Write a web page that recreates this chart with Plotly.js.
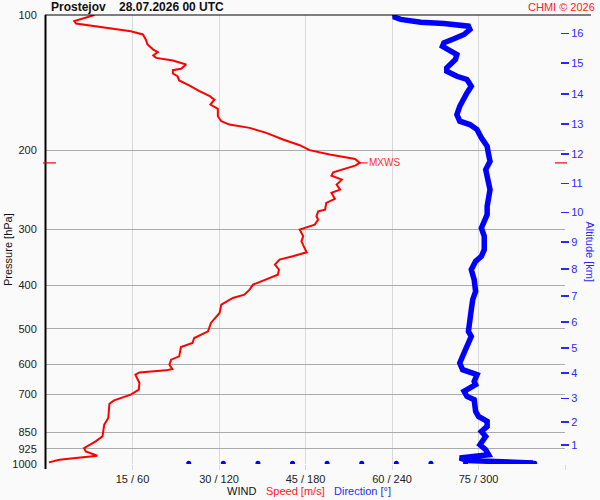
<!DOCTYPE html>
<html>
<head>
<meta charset="utf-8">
<script src="https://cdn.plot.ly/plotly-3.0.1.min.js"></script>
<style>html,body{margin:0;padding:0;background:#fafafa;}#chart{width:600px;height:500px;}</style>
</head>
<body>
<div id="chart"></div>
<script>
// Wind speed profile [m/s] vs pressure [hPa]
var speedP = [100,103.2,104.5,106.2,107.3,108.7,110.5,113.4,116.3,119.4,
  121.0,123.1,124.6,126.3,128.9,131.8,132.7,135.0,136.9,139.9,
  143.6,147.8,151.6,154.3,158.3,161.8,168.1,172.4,175.4,178.4,
  183.0,189.4,195.0,200.0,204.6,209.2,213.5,216.5,224.0,227.9,
  232.6,238.6,244.8,249.0,256.8,262.1,271.3,273.7,280.8,285.6,
  293.0,298.1,300.6,311.1,319.2,327.5,337.7,344.7,350.6,359.7,
  369.1,378.7,398.6,409.0,419.6,426.7,441.7,460.8,485.1,506.4,
  524.0,537.6,548.7,575.9,585.7,600.9,614.3,618.7,625.1,632.5,
  660.0,683.0,700.9,721.7,734.0,789.8,817.4,868.0,890.7,921.4,
  937.7,958.4,969.6,978.1,991.8];
var speed = [8.4,4.9,5.2,9.2,11.5,14.7,16.8,17.3,17.6,18.6,
  19.4,18.6,19.1,22.0,24.3,23.4,22.0,22.0,22.8,23.1,
  24.9,26.6,28.4,29.2,28.5,29.8,29.8,30.4,31.8,35.3,
  38.2,41.1,44.0,45.7,49.2,53.6,54.4,53.6,49.8,49.5,
  51.3,50.4,51.0,49.5,50.1,48.6,48.4,47.2,46.9,47.2,
  46.6,44.6,44.0,44.6,44.3,44.7,45.2,42.8,40.5,39.7,
  40.4,40.2,35.9,35.3,34.4,32.4,30.4,30.1,28.6,28.1,
  25.7,25.4,23.4,23.1,21.7,21.4,21.9,20.8,16.2,15.5,
  16.2,16.1,14.7,11.8,11.0,10.8,10.1,9.8,8.6,6.6,
  6.9,8.9,5.7,2.3,0.5];

// Wind direction profile [deg] vs pressure [hPa]
var dirP = [100,100.9,102.3,103.8,104.5,105.9,107.7,110.5,113.0,115.3,
  117.4,119.4,122.5,125.6,131.1,133.4,136.9,139.2,144.1,149.1,
  152.9,159.7,166.6,172.4,175.4,180.0,187.7,196.0,204.6,211.7,
  220.9,228.7,244.8,255.5,266.7,278.3,288.1,298.1,311.1,333.1,
  344.7,353.7,369.1,388.5,412.5,430.4,453.1,481.2,506.4,519.7,
  542.3,565.8,595.7,616.6,632.5,654.6,665.8,689.0,707.0,719.0,
  763.5,783.4,803.8,824.7,846.2,868.0,905.8,929.3,953.4,961.8,
  969.6,981.8,986.7,995.0];
var dir = [243,241,246,260,276,293,294,290,283,276,
  275,279,285,284,278,278,285,292,295,292,
  290,287,285,287,294,299,302,306,307,308,
  305,306,308,307,306,306,304,302,304,304,
  302,298,295,297,298,296,295,294,293,295,
  292,290,287,289,299,297,298,290,292,297,
  298,300,306,306,302,305,301,305,307,297,
  287,292,315,338];

// Surface dots (direction scale) at the bottom
var dotDir = [99,123,147,171,195,219,243,267,291,315,339];
var dotP = [996,996,996,996,996,996,996,996,996,996,996];

// Axis ticks
var pTicks = [100,200,300,400,500,600,700,850,925,1000];
var windTicks = [15,30,45,60,75,90];
var windLabels = ['15 / 60','30 / 120','45 / 180','60 / 240','75 / 300',''];
var altKm = ['1','2','3','4','5','6','7','8','9','10','11','12','13','14','15','16'];
var altP = [907,806,715,627,551,483,422,368,320,275,237,204,175,150,128,110];

// max wind
var iMax = 0;
for (var i = 1; i < speed.length; i++) { if (speed[i] > speed[iMax]) iMax = i; }
var mxS = speed[iMax], mxP = speedP[iMax];

var W = 600, H = 500, ML = 46, MR = 35, MT = 15, MB = 36;
var PW = W - ML - MR, PH = H - MT - MB;
function px(x) { return (x - ML) / PW; }
function py(y) { return (H - MB - y) / PH; }

var traces = [
  {x: dir, y: dirP, xaxis: 'x2', yaxis: 'y', type: 'scatter', mode: 'lines',
   line: {color: '#0000ff', width: 5.5}, hoverinfo: 'skip'},
  {x: dotDir, y: dotP, xaxis: 'x2', yaxis: 'y', type: 'scatter', mode: 'markers',
   marker: {color: '#0000ff', size: 5}, hoverinfo: 'skip'},
  {x: speed, y: speedP, xaxis: 'x', yaxis: 'y', type: 'scatter', mode: 'lines',
   line: {color: '#ff0000', width: 2}, hoverinfo: 'skip'}
];

var fontF = 'Liberation Sans, Arial, sans-serif';

var layout = {
  width: W, height: H,
  margin: {l: ML, r: MR, t: MT, b: MB, pad: 0},
  paper_bgcolor: '#fafafa', plot_bgcolor: '#fafafa',
  showlegend: false,
  font: {family: fontF, size: 11, color: '#222'},
  xaxis: {range: [0, 90], tickvals: windTicks, ticktext: windLabels,
    showgrid: true, gridcolor: '#d9d9d9', gridwidth: 1, zeroline: false, showline: false,
    ticks: 'outside', ticklen: 5, tickcolor: '#d9d9d9', tickwidth: 1,
    tickfont: {size: 11, color: '#222'}, fixedrange: true},
  xaxis2: {range: [0, 360], overlaying: 'x', visible: false, fixedrange: true},
  yaxis: {type: 'log', range: [3, 2], tickvals: pTicks, ticktext: pTicks.map(String),
    showgrid: true, gridcolor: '#ababab', gridwidth: 1, zeroline: false, showline: false,
    ticks: 'outside', ticklen: 6, tickcolor: 'rgba(0,0,0,0)',
    tickfont: {size: 11, color: '#222'}, fixedrange: true},
  yaxis2: {type: 'log', range: [3, 2], overlaying: 'y', side: 'right',
    tickvals: altP, ticktext: altKm, showgrid: false, zeroline: false, showline: false,
    ticks: 'outside', ticklen: 3, tickcolor: 'rgba(0,0,0,0)', tickwidth: 1,
    tickfont: {size: 11, color: '#2a2aff'}, fixedrange: true},
  yaxis3: {type: 'log', range: [3, 2], overlaying: 'y', side: 'right', anchor: 'free',
    position: px(559.5),
    tickvals: altP, showticklabels: false, showgrid: false, zeroline: false, showline: false,
    ticks: 'outside', ticklen: 8, tickcolor: '#2a2aff', tickwidth: 1.5, fixedrange: true},
  shapes: [
    {type: 'line', xref: 'paper', yref: 'paper', x0: px(45.5), x1: px(45.5), y0: py(469), y1: 1,
     line: {color: '#000', width: 2}},
    {type: 'line', xref: 'paper', yref: 'paper', x0: px(45), x1: px(591), y0: 1, y1: 1,
     line: {color: '#000', width: 1}},
    {type: 'line', xref: 'paper', yref: 'y', x0: px(43), x1: px(56), y0: mxP, y1: mxP,
     line: {color: '#ff0000', width: 1.2}},
    {type: 'line', xref: 'paper', yref: 'y', x0: px(555), x1: px(567), y0: mxP, y1: mxP,
     line: {color: '#ff0000', width: 1.2}}
  ],
  annotations: [
    {xref: 'paper', yref: 'paper', x: px(49), y: py(7), xanchor: 'left', yanchor: 'middle',
     text: '<b>Prostejov\u00a0\u00a0\u00a0\u00a028.07.2026 00 UTC</b>', showarrow: false,
     font: {size: 12, color: '#111'}},
    {xref: 'paper', yref: 'paper', x: px(597), y: py(7), xanchor: 'right', yanchor: 'middle',
     text: 'CHMI \u00a9 2026', showarrow: false, font: {size: 11, color: '#ff2020'}},
    {xref: 'x', yref: 'y', x: mxS, y: Math.log10(mxP), text: 'MXWS', showarrow: true,
     ax: 25, ay: 0, arrowhead: 0, arrowwidth: 1, arrowcolor: '#ff0000',
     font: {size: 10, color: '#ff3030'}},
    {xref: 'paper', yref: 'paper', x: px(8), y: py(250), xanchor: 'center', yanchor: 'middle',
     text: 'Pressure [hPa]', textangle: -90, showarrow: false, font: {size: 11, color: '#111'}},
    {xref: 'paper', yref: 'paper', x: px(589.5), y: py(252), xanchor: 'center', yanchor: 'middle',
     text: 'Altitude [km]', textangle: 90, showarrow: false, font: {size: 11, color: '#2a2aff'}},
    {xref: 'paper', yref: 'paper', x: px(225), y: py(491), xanchor: 'left', yanchor: 'middle',
     text: 'WIND', showarrow: false, font: {size: 11, color: '#111'}},
    {xref: 'paper', yref: 'paper', x: px(264), y: py(491), xanchor: 'left', yanchor: 'middle',
     text: 'Speed [m/s]', showarrow: false, font: {size: 11, color: '#ff2020'}},
    {xref: 'paper', yref: 'paper', x: px(332), y: py(491), xanchor: 'left', yanchor: 'middle',
     text: 'Direction [\u00b0]', showarrow: false, font: {size: 11, color: '#2a2aff'}}
  ]
};

// dummy traces to activate yaxis2 / yaxis3
traces.push({x: [0], y: [500], xaxis: 'x', yaxis: 'y2', mode: 'markers', marker: {opacity: 0}, hoverinfo: 'skip'});
traces.push({x: [0], y: [500], xaxis: 'x', yaxis: 'y3', mode: 'markers', marker: {opacity: 0}, hoverinfo: 'skip'});

Plotly.newPlot('chart', traces, layout, {staticPlot: true, displayModeBar: false});
</script>
</body>
</html>
